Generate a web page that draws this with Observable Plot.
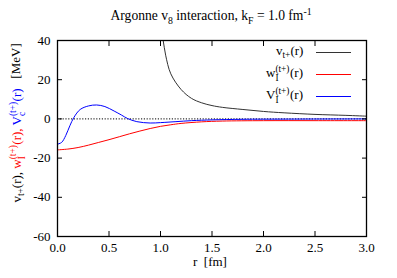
<!DOCTYPE html>
<html>
<head>
<meta charset="utf-8">
<script src="https://cdn.jsdelivr.net/npm/d3@7"></script>
<script src="https://cdn.jsdelivr.net/npm/@observablehq/plot@0.6"></script>
<style>
  html, body { margin: 0; padding: 0; background: #fff; }
  #wrap { position: relative; width: 397px; height: 278px; font-family: "Liberation Serif", "DejaVu Serif", serif; color: #000; }
  #wrap svg { position: absolute; left: 0; top: 0; }
  #wrap svg text { font-family: "Liberation Serif", "DejaVu Serif", serif !important; font-size: 13px; }
  .ov { position: absolute; white-space: nowrap; font-size: 13px; line-height: 1; font-family: "Liberation Serif", "DejaVu Serif", serif; }
  .ss { display: inline-flex; flex-direction: column; vertical-align: 0.5em; font-size: 0.72em; line-height: 0.95; margin-right: 0.5px; }
  .sub { font-size: 0.72em; vertical-align: -0.35em; }
  .sup { font-size: 0.72em; vertical-align: 0.55em; }
  .sample { position: absolute; height: 0; border-top-width: 1.2px; border-top-style: solid; }
</style>
</head>
<body>
<div id="wrap"></div>
<script>
// ---- data ----
const xTicks = [0, 0.5, 1.0, 1.5, 2.0, 2.5, 3.0];
const yTicks = [-60, -40, -20, 0, 20, 40];

const rV = [0.95, 1.0, 1.026, 1.05, 1.1, 1.2, 1.3, 1.4, 1.5, 1.6, 1.8, 2.0, 2.2, 2.5, 2.8, 3.0];
const vT = [62, 47, 40, 32.5, 23, 15, 10.5, 8.2, 6.8, 5.9, 4.8, 3.8, 3.1, 2.3, 1.8, 1.4];

const rW = [0, 0.1, 0.2, 0.3, 0.4, 0.5, 0.6, 0.7, 0.8, 0.9, 1.0, 1.1, 1.2, 1.4, 1.6, 2.0, 2.5, 3.0];
const wI = [-15.8, -15.4, -14.6, -13.4, -12.0, -10.6, -9.1, -7.6, -6.2, -4.9, -3.8, -3.0, -2.3, -1.5, -1.1, -0.9, -0.9, -0.9];

const rC = [0, 0.04, 0.08, 0.12, 0.16, 0.22, 0.3, 0.38, 0.46, 0.55, 0.62, 0.68, 0.77, 0.9, 1.0, 1.15, 1.3, 1.5, 1.8, 2.2, 3.0];
const vC = [-12.9, -12.0, -8.5, -3.5, 0.8, 4.8, 6.6, 7.1, 6.3, 4.0, 2.0, 0.2, -1.4, -2.1, -1.9, -1.4, -0.9, -0.5, -0.2, -0.1, 0];

const zeroLine = [0];

// ---- tables ----
const blackData = rV.map((r, i) => ({r, y: vT[i]}));
const redData = rW.map((r, i) => ({r, y: wI[i]}));
const blueData = rC.map((r, i) => ({r, y: vC[i]}));

const COL_BLACK = "#333333", COL_RED = "#ff0000", COL_BLUE = "#0000ff";
const FONT = '"Liberation Serif", "DejaVu Serif", serif';

const plot = Plot.plot({
  width: 397,
  height: 278,
  marginLeft: 57,
  marginRight: 31,
  marginTop: 40,
  marginBottom: 42,
  style: {fontFamily: FONT, fontSize: "13px", background: "transparent", color: "#000"},
  x: {domain: [0, 3]},
  y: {domain: [-60, 40]},
  marks: [
    Plot.ruleY(zeroLine, {stroke: "#000", strokeWidth: 1, strokeDasharray: "1.2 1.6"}),
    Plot.line(redData, {x: "r", y: "y", stroke: COL_RED, strokeWidth: 1, curve: "catmull-rom", clip: true}),
    Plot.line(blueData, {x: "r", y: "y", stroke: COL_BLUE, strokeWidth: 1, curve: "catmull-rom", clip: true}),
    Plot.line(blackData, {x: "r", y: "y", stroke: COL_BLACK, strokeWidth: 1, curve: "catmull-rom", clip: true}),
    // inward ticks, all four sides
    Plot.axisX({anchor: "bottom", ticks: xTicks, tickSize: 5, dy: -5, tickFormat: () => "", label: null}),
    Plot.axisX({anchor: "top", ticks: xTicks, tickSize: 5, dy: 5, tickFormat: () => "", label: null}),
    Plot.axisY({anchor: "left", ticks: yTicks, tickSize: 5, dx: 5, tickFormat: () => "", label: null}),
    Plot.axisY({anchor: "right", ticks: yTicks, tickSize: 5, dx: -5, tickFormat: () => "", label: null}),
    // labels
    Plot.axisX({anchor: "bottom", ticks: xTicks, tickSize: 0, tickPadding: 6, tickFormat: d => d.toFixed(1), label: null}),
    Plot.axisY({anchor: "left", ticks: yTicks, tickSize: 0, tickPadding: 7, tickFormat: d => String(d), label: null}),
    Plot.frame({stroke: "#000", strokeWidth: 1.3})
  ]
});

const wrap = document.getElementById("wrap");
wrap.appendChild(plot);

function ss(sup, sub) {
  return `<span class="ss"><span>${sup}</span><span>${sub}</span></span>`;
}

function addDiv(html) {
  const d = document.createElement("div");
  d.className = "ov";
  d.innerHTML = html;
  wrap.appendChild(d);
  return d;
}

// title
const title = addDiv(`Argonne v<span class="sub">8</span> interaction, k<span class="sub">F</span> = 1.0 fm<span class="sup">-1</span>`);
title.style.fontSize = "13.6px";
title.style.left = (211 - title.offsetWidth / 2) + "px";
title.style.top = (16 - title.offsetHeight / 2) + "px";

// x label
const xl = addDiv(`r&nbsp;&nbsp;[fm]`);
xl.style.left = (210 - xl.offsetWidth / 2) + "px";
xl.style.top = (261 - xl.offsetHeight / 2) + "px";

// y label (rotated)
const yl = addDiv(
  `<span style="color:#000">v<span class="sub">t+</span>(r),</span> ` +
  `<span style="color:${COL_RED}">w${ss("(t+)", "I")}(r),</span> ` +
  `<span style="color:${COL_BLUE}">V${ss("(t+)", "c")}(r)</span>&nbsp;&nbsp;&nbsp;` +
  `<span style="color:#000">[MeV]</span>`);
const w = yl.offsetWidth, h = yl.offsetHeight;
yl.style.left = (17 - w / 2) + "px";
yl.style.top = (123 - h / 2) + "px";
yl.style.transform = "rotate(-90deg)";

// legend
const legend = [
  {html: `v<span class="sub">t+</span>(r)`, color: COL_BLACK, y: 52},
  {html: `w${ss("(t+)", "I")}(r)`, color: COL_RED, y: 74},
  {html: `V${ss("(t+)", "I")}(r)`, color: COL_BLUE, y: 96}
];
for (const e of legend) {
  const t = addDiv(e.html);
  t.style.left = (303 - t.offsetWidth) + "px";
  t.style.top = (e.y - t.offsetHeight / 2) + "px";
  const s = document.createElement("div");
  s.className = "sample";
  s.style.left = "316px";
  s.style.width = "35px";
  s.style.top = (e.y - 0.5) + "px";
  s.style.borderTopColor = e.color;
  wrap.appendChild(s);
}
</script>
</body>
</html>
